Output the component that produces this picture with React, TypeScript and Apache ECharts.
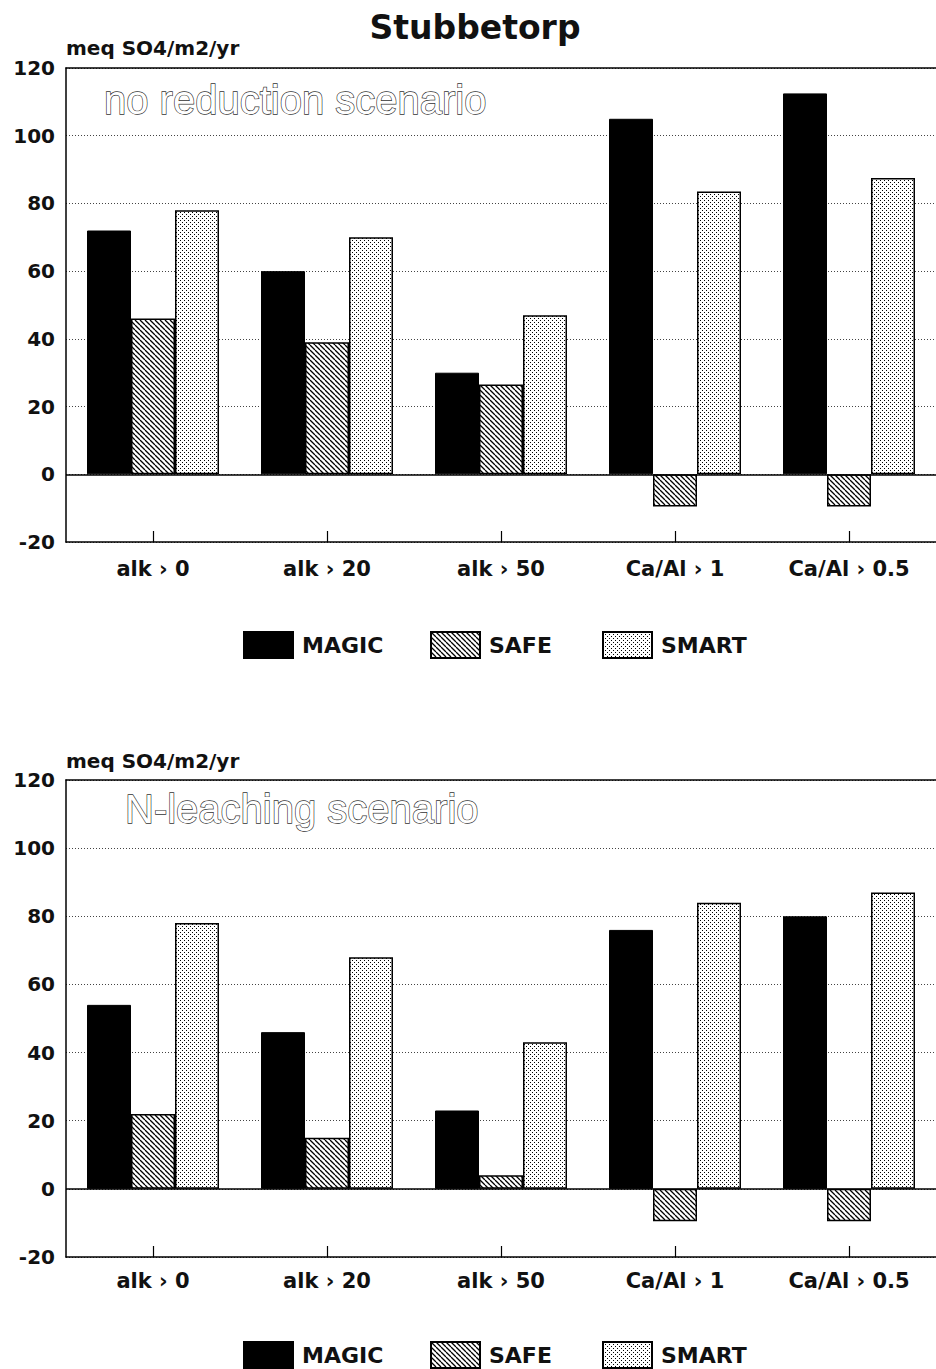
import React, { useEffect, useRef } from 'react';
import * as echarts from 'echarts';

const chartTitle = 'Stubbetorp';
const yAxisName = 'meq SO4/m2/yr';
const categories = ['alk › 0', 'alk › 20', 'alk › 50', 'Ca/Al › 1', 'Ca/Al › 0.5'];
const seriesNames = ['MAGIC', 'SAFE', 'SMART'];
const panelTitles = ['no reduction scenario', 'N-leaching scenario'];

// no reduction scenario
const noRedMagic = [72, 60, 30, 105, 112.5];
const noRedSafe = [46, 39, 26.5, -9.5, -9.5];
const noRedSmart = [78, 70, 47, 83.5, 87.5];

// N-leaching scenario
const nLeachMagic = [54, 46, 23, 76, 80];
const nLeachSafe = [22, 15, 4, -9.5, -9.5];
const nLeachSmart = [78, 68, 43, 84, 87];

const yMin = -20;
const yMax = 120;
const yStep = 20;

const FONT = 'DejaVu Sans';

function makeHatch() {
  const s = 5;
  const c = document.createElement('canvas');
  c.width = s;
  c.height = s;
  const ctx = c.getContext('2d') as CanvasRenderingContext2D;
  ctx.fillStyle = '#fff';
  ctx.fillRect(0, 0, s, s);
  ctx.strokeStyle = '#000';
  ctx.lineWidth = 1.3;
  ctx.beginPath();
  for (const k of [-s, 0, s]) {
    ctx.moveTo(k, 0);
    ctx.lineTo(k + s, s);
  }
  ctx.stroke();
  return { image: c, repeat: 'repeat', imageWidth: s, imageHeight: s };
}

function makeDots() {
  const s = 4;
  const c = document.createElement('canvas');
  c.width = s;
  c.height = s;
  const ctx = c.getContext('2d') as CanvasRenderingContext2D;
  ctx.fillStyle = '#fff';
  ctx.fillRect(0, 0, s, s);
  ctx.fillStyle = '#000';
  ctx.fillRect(0, 0, 1, 1);
  ctx.fillRect(2, 2, 1, 1);
  return { image: c, repeat: 'repeat', imageWidth: s, imageHeight: s };
}

export default function App() {
  const ref = useRef<HTMLDivElement>(null);

  useEffect(() => {
    if (!ref.current) return;
    const chart = echarts.init(ref.current, null, { renderer: 'svg' });
    const hatch = makeHatch();
    const dots = makeDots();

    const panels = [
      { data: [noRedMagic, noRedSafe, noRedSmart], title: panelTitles[0] },
      { data: [nLeachMagic, nLeachSafe, nLeachSmart], title: panelTitles[1] },
    ];
    const grids = [
      { left: 66, right: -8, top: 68, height: 474 },
      { left: 66, right: -8, top: 780, height: 477 },
    ];
    const labelMargins = [16, 13];
    const legendTops = [626, 1336];
    const legendLefts = [238, 425, 597];
    const axisNameY = [48, 761];
    const panelTitleY = [100, 809];
    const panelTitleX = [104, 125];

    const styles = [
      { color: '#000', borderColor: '#000', borderWidth: 1 },
      { color: hatch, borderColor: '#000', borderWidth: 1.5 },
      { color: dots, borderColor: '#000', borderWidth: 1.5 },
    ];

    const xAxes: any[] = [];
    const yAxes: any[] = [];
    const series: any[] = [];
    const legends: any[] = [];
    const graphics: any[] = [
      {
        type: 'text',
        x: 475,
        y: 27,
        style: {
          text: chartTitle,
          fontFamily: FONT,
          fontWeight: 'bold',
          fontSize: 33,
          fill: '#111',
          align: 'center',
          verticalAlign: 'middle',
        },
      },
    ];

    panels.forEach((p, i) => {
      xAxes.push({
        type: 'category',
        gridIndex: i,
        data: categories,
        position: 'bottom',
        axisLine: { show: true, onZero: false, lineStyle: { color: '#000', width: 1.5 } },
        axisTick: { show: true, inside: true, length: 11, alignWithLabel: true, interval: 0, lineStyle: { color: '#000', width: 1.2 } },
        axisLabel: { fontFamily: FONT, fontWeight: 'bold', fontSize: 21, color: '#111', margin: labelMargins[i], interval: 0 },
        splitLine: { show: false },
      });
      xAxes.push({
        type: 'category',
        gridIndex: i,
        data: categories,
        position: 'top',
        axisLine: { show: true, onZero: false, lineStyle: { color: '#000', width: 1.5 } },
        axisTick: { show: false },
        axisLabel: { show: false },
        splitLine: { show: false },
      });
      yAxes.push({
        type: 'value',
        gridIndex: i,
        min: yMin,
        max: yMax,
        interval: yStep,
        axisLine: { show: true, onZero: false, lineStyle: { color: '#000', width: 1.5 } },
        axisTick: { show: false },
        axisLabel: { fontFamily: FONT, fontWeight: 'bold', fontSize: 20, color: '#111', margin: 11 },
        splitLine: { show: true, lineStyle: { color: '#444', width: 1, type: [1, 2] } },
      });
      p.data.forEach((vals, j) => {
        const s: any = {
          type: 'bar',
          name: seriesNames[j],
          xAxisIndex: 2 * i,
          yAxisIndex: i,
          data: vals,
          barWidth: 44,
          barGap: '0%',
          itemStyle: styles[j],
          emphasis: { disabled: true },
        };
        if (j === 0) {
          s.markLine = {
            silent: true,
            symbol: 'none',
            label: { show: false },
            lineStyle: { color: '#000', width: 1.5, type: 'solid' },
            data: [{ yAxis: 0 }],
          };
        }
        series.push(s);
      });
      seriesNames.forEach((name, j) => {
        legends.push({
          left: legendLefts[j],
          top: legendTops[i],
          data: [name],
          icon: 'rect',
          itemWidth: 49,
          itemHeight: 26,
          selectedMode: false,
          textStyle: { fontFamily: FONT, fontWeight: 'bold', fontSize: 22, color: '#111', padding: [0, 0, 0, 4] },
        });
      });
      graphics.push({
        type: 'text',
        x: 66,
        y: axisNameY[i],
        style: {
          text: yAxisName,
          fontFamily: FONT,
          fontWeight: 'bold',
          fontSize: 20,
          fill: '#111',
          align: 'left',
          verticalAlign: 'middle',
        },
      });
      graphics.push({
        type: 'text',
        x: panelTitleX[i],
        y: panelTitleY[i],
        style: {
          text: p.title,
          fontFamily: 'Liberation Sans',
          fontSize: 40,
          fill: '#fff',
          stroke: '#333',
          lineWidth: 1.3,
          align: 'left',
          verticalAlign: 'middle',
        },
      });
    });

    chart.setOption({
      animation: false,
      backgroundColor: '#fff',
      grid: grids,
      xAxis: xAxes,
      yAxis: yAxes,
      series,
      legend: legends,
      graphic: graphics,
    });
    return () => chart.dispose();
  }, []);

  return (
    <div style={{ position: 'absolute', left: 0, top: 0, width: 936, height: 1369, background: '#fff' }}>
      <div ref={ref} style={{ width: 936, height: 1369 }} />
    </div>
  );
}
